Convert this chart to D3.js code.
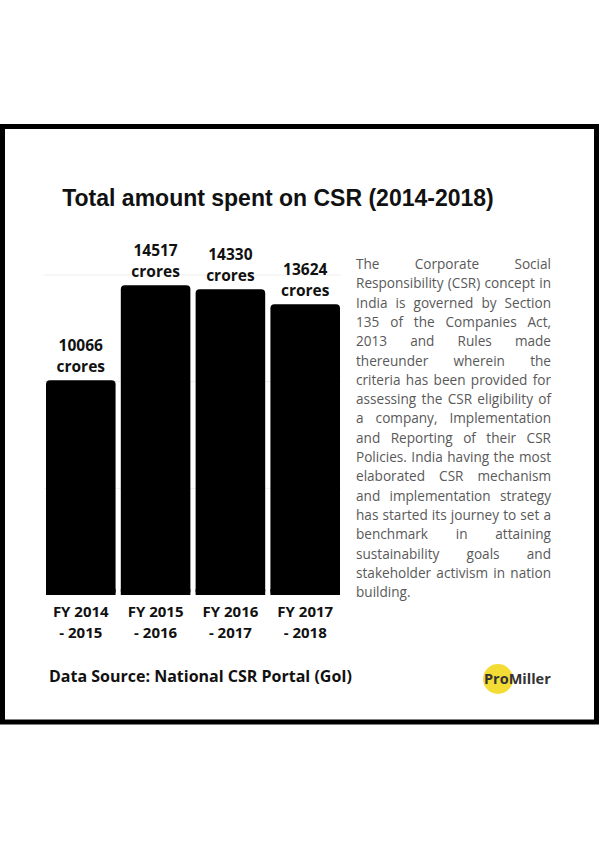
<!DOCTYPE html>
<html lang="en">
<head>
<meta charset="UTF-8">
<title>Total amount spent on CSR (2014-2018)</title>
<script src="https://d3js.org/d3.v7.min.js"></script>
<style>
    body { margin: 0; background: #fff; }
    svg { display: block; }
    .value, .cat, .source { font-family: "Open Sans", sans-serif; font-weight: 700; fill: #111; }
    .para { font-family: "Open Sans", sans-serif; font-size: 13.6px; fill: #595959; }
</style>
</head>
<body>
<svg width="600" height="848"></svg>
<script>
// chart data
const years = ["FY 2014 - 2015", "FY 2015 - 2016", "FY 2016 - 2017", "FY 2017 - 2018"];
const amounts = [10066, 14517, 14330, 13624];
const gridTicks = [5000, 10000, 15000];
const unit = "crores";

const titleText = "Total amount spent on CSR (2014-2018)";
const sourceText = "Data Source: National CSR Portal (GoI)";
const paraLines = [
    "The Corporate Social",
    "Responsibility (CSR) concept in",
    "India is governed by Section",
    "135 of the Companies Act,",
    "2013 and Rules made",
    "thereunder wherein the",
    "criteria has been provided for",
    "assessing the CSR eligibility of",
    "a company, Implementation",
    "and Reporting of their CSR",
    "Policies. India having the most",
    "elaborated CSR mechanism",
    "and implementation strategy",
    "has started its journey to set a",
    "benchmark in attaining",
    "sustainability goals and",
    "stakeholder activism in nation",
    "building."
];

const svg = d3.select("svg");

// frame
svg.append("rect")
    .attr("x", 2.5).attr("y", 126.5)
    .attr("width", 594).attr("height", 595.5)
    .attr("fill", "#fff")
    .attr("stroke", "#000")
    .attr("stroke-width", 5);

svg.append("text")
    .attr("x", 278).attr("y", 206)
    .attr("text-anchor", "middle")
    .style("font-family", "'Liberation Sans', Arial, sans-serif")
    .style("font-weight", 700)
    .style("font-size", "23px")
    .attr("fill", "#111")
    .text(titleText);

const x = d3.scaleBand().domain(years).range([46, 340]).paddingInner(0.07).paddingOuter(0);
const y = d3.scaleLinear().domain([0, 15000]).range([595, 275]);

// faint gridlines
svg.append("g").selectAll("line")
    .data(gridTicks)
    .join("line")
    .attr("x1", 44).attr("x2", 341)
    .attr("y1", d => y(d)).attr("y2", d => y(d))
    .attr("stroke", "#eeeeee")
    .attr("stroke-width", 1);

// bars
svg.append("g").selectAll("rect")
    .data(amounts)
    .join("rect")
    .attr("x", (d, i) => x(years[i]))
    .attr("y", d => y(d))
    .attr("width", x.bandwidth())
    .attr("height", d => y(0) - y(d))
    .attr("rx", 4)
    .attr("fill", "#000");
// square off the bottom corners
svg.append("g").selectAll("rect")
    .data(amounts)
    .join("rect")
    .attr("x", (d, i) => x(years[i]))
    .attr("y", y(0) - 6)
    .attr("width", x.bandwidth())
    .attr("height", 6)
    .attr("fill", "#000");

// value labels
const vals = svg.append("g").selectAll("text")
    .data(amounts)
    .join("text")
    .attr("class", "value")
    .attr("text-anchor", "middle")
    .style("font-size", "15.5px")
    .attr("x", (d, i) => x(years[i]) + x.bandwidth() / 2)
    .attr("y", d => y(d) - 29);
vals.append("tspan").text(d => d);
vals.append("tspan")
    .attr("x", (d, i) => x(years[i]) + x.bandwidth() / 2)
    .attr("dy", 21)
    .text(unit);

// category labels, two lines each
const cats = svg.append("g").selectAll("text")
    .data(years)
    .join("text")
    .attr("class", "cat")
    .attr("text-anchor", "middle")
    .style("font-size", "15px")
    .attr("x", d => x(d) + x.bandwidth() / 2)
    .attr("y", 617);
cats.append("tspan").text(d => d.split(" - ")[0]);
cats.append("tspan")
    .attr("x", d => x(d) + x.bandwidth() / 2)
    .attr("dy", 21)
    .text(d => "- " + d.split(" - ")[1]);

// justified paragraph
const paraLeft = 356, paraWidth = 195, paraTop = 269, lineH = 19.3;
const para = svg.append("g").selectAll("text")
    .data(paraLines)
    .join("text")
    .attr("class", "para")
    .attr("x", paraLeft)
    .attr("y", (d, i) => paraTop + i * lineH)
    .text(d => d);
para.each(function(d, i) {
    if (i === paraLines.length - 1) return;
    const spaces = d.split(" ").length - 1;
    const len = this.getComputedTextLength();
    if (spaces > 0) d3.select(this).style("word-spacing", ((paraWidth - len) / spaces) + "px");
});

// source
svg.append("text")
    .attr("class", "source")
    .attr("x", 49).attr("y", 682)
    .style("font-size", "16px")
    .text(sourceText);

// logo
svg.append("circle")
    .attr("cx", 498).attr("cy", 679).attr("r", 15)
    .attr("fill", "#f4dc36");
svg.append("text")
    .attr("x", 484).attr("y", 684)
    .style("font-family", "'Open Sans', sans-serif")
    .style("font-weight", 700)
    .style("font-size", "14.5px")
    .attr("fill", "#333")
    .text("ProMiller");
</script>
</body>
</html>
